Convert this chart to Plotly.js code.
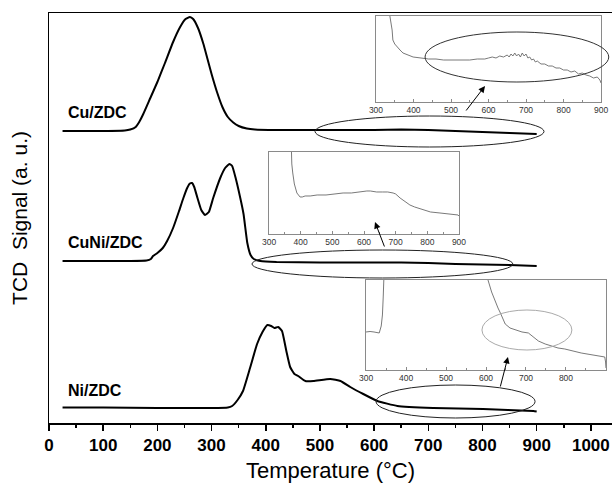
<!DOCTYPE html>
<html>
<head>
<meta charset="utf-8">
<script src="https://cdn.plot.ly/plotly-3.0.1.min.js"></script>
<style>html,body{margin:0;padding:0;background:#fff;}#chart{width:612px;height:487px;}</style>
</head>
<body>
<div id="chart"></div>
<script>
// ---- Main TPR profiles (temperature in °C, signal in arbitrary units) ----
const cuT = [25,50,100,140,150,160,167,174,187,200,214,229,242,252,260,266,275,285,292,300,310,320,330,340,350,365,380,420,500,600,650,700,750,800,850,900];
const cuSignal = [292,292,292,292.5,293.5,296,301.5,309,325,341,360,381,396,404,406,404,395,379,365,349,331,316,306,300.5,297,294.5,293.5,293,293,293,293.5,293,292,291,290,289];

const cuniT = [25,100,150,180,188,192,200,210,218,229,240,248,255,260,264,268,274,281,288,295,303,316,325,333,338,344,353,359,366,372,378,390,420,500,600,650,700,750,800,850,900];
const cuniSignal = [162,162,162,162.5,164,167,170,175,182,195,212,225,235,239.5,240,236,225,213,208,211,225,245,255,259,257,246,225,209,180,168,164,162,161,160.5,160.5,160.5,160,159,158.5,158,157];

const niT = [25,100,200,300,330,338,348,358,371,384,394,403,410,416,423,430,438,445,453,460,473,488,519,538,556,580,606,643,709,801,894,900];
const niSignal = [15.5,15.5,15,15,15.5,17,23,32,55,79,91,98,97,95,96,92,72,56,49,47,42,42,44,42,36,29,22,17,15,14,12,11.5];

// ---- Inset (magnified) profiles ----
const inset1T = [330,337,343,345,350,356,364,372,385,399,420,440,460,480,500,524,550,570,590,600,610,620,630,640,650,655,660,665,670,675,680,685,690,695,700,705,710,715,720,725,730,740,750,760,770,780,790,800,810,820,830,840,850,860,870,880,890,897,900];
const inset1Signal = [120,86,72,62,58,55,52,49,47,45,44,43,43,42,42,42,42,43,43,44,45,44,46,45,47,45,48,46,49,46,48,45,49,46,48,44,45,42,43,40,41,38,38,36,36,34,34,32,32,30,31,28,29,27,26,24,25,22,19];

const inset2T = [365,369,372,375,380,388,398,405,414,430,452,480,500,534,560,580,600,609,620,640,659,675,692,700,714,730,745,760,787,810,840,870,897,900];
const inset2Signal = [150,82,70,61,50,41,37,37,38,38,39,39,40,41,41,42,43,43,43,42,42,42,41,40,36,32,29,27,24,22,21,20,19,18];

const inset3T = [300,310,320,328,333,338,341,343,346,348,350,600,605,614,623,630,636,642,648,660,673,690,706,718,731,748,764,780,797,815,838,860,887,897,899,900];
const inset3Signal = [38,38.5,38,37,37,44,55,73,90,130,null,120,90,78,68,62,57,51,46,42,40,38,37,33,29,26,24,22,21,19,17,15.5,14,13,8,2];

// ---- Labels ----
const sampleNames = ['Cu/ZDC','CuNi/ZDC','Ni/ZDC'];
const xTitle = 'Temperature (°C)';
const yTitle = 'TCD\u00A0 Signal (a. u.)';
const insetTicks = [300,400,500,600,700,800,900];

const FONT = 'Liberation Sans, Arial, sans-serif';
const mainLine = {color:'#000', width:2, shape:'spline', smoothing:0.4};
const insetLine = {color:'#6a6a6a', width:0.9};

const traces = [
  {x:cuT, y:cuSignal, xaxis:'x', yaxis:'y', mode:'lines', line:mainLine, name:sampleNames[0]},
  {x:cuniT, y:cuniSignal, xaxis:'x', yaxis:'y', mode:'lines', line:mainLine, name:sampleNames[1]},
  {x:niT, y:niSignal, xaxis:'x', yaxis:'y', mode:'lines', line:mainLine, name:sampleNames[2]},
  {x:inset1T, y:inset1Signal, xaxis:'x2', yaxis:'y2', mode:'lines', line:insetLine},
  {x:inset2T, y:inset2Signal, xaxis:'x3', yaxis:'y3', mode:'lines', line:insetLine},
  {x:inset3T, y:inset3Signal, xaxis:'x4', yaxis:'y4', mode:'lines', line:insetLine, connectgaps:false}
];

function insetX(domain, anchor){
  return {domain:domain, anchor:anchor, range:[300,900], showline:true, mirror:true,
    linecolor:'#8a8a8a', linewidth:1, ticks:'inside', ticklen:3, tickcolor:'#8a8a8a',
    tickvals:insetTicks, showgrid:false, zeroline:false,
    minor:{ticks:'inside', ticklen:2, dtick:50, tickcolor:'#8a8a8a'},
    tickfont:{family:FONT, size:8.5, color:'#333'}};
}
function insetY(domain, anchor, range){
  return {domain:domain, anchor:anchor, range:range, showline:true, mirror:true,
    linecolor:'#8a8a8a', linewidth:1, ticks:'', showticklabels:false, showgrid:false, zeroline:false};
}

const layout = {
  width:612, height:487,
  margin:{l:49, r:0, t:13, b:64},
  paper_bgcolor:'#fff', plot_bgcolor:'#fff',
  showlegend:false,
  font:{family:FONT, color:'#000'},
  xaxis:{domain:[0,1], range:[0,1039], showline:true, mirror:true, linecolor:'#000', linewidth:1.5,
    ticks:'outside', ticklen:6, tickwidth:1.5, tickcolor:'#000', tick0:0, dtick:100,
    minor:{ticks:'outside', ticklen:3, tickwidth:1.5, dtick:50, tickcolor:'#000'},
    showgrid:false, zeroline:false,
    tickfont:{family:FONT, size:17, weight:'bold', color:'#000'},
    title:{text:xTitle, font:{family:FONT, size:22, color:'#000'}, standoff:8}},
  yaxis:{domain:[0,1], range:[0,410], showline:true, linecolor:'#000', linewidth:1.5,
    ticks:'', showticklabels:false, showgrid:false, zeroline:false,
    title:{text:yTitle, font:{family:FONT, size:21, color:'#000'}, standoff:14}},
  xaxis2:insetX([0.5808,0.9805],'y2'),
  yaxis2:insetY([0.7829,0.9927],'x2',[0,86]),
  xaxis3:insetX([0.3908,0.7282],'y3'),
  yaxis3:insetY([0.4610,0.6610],'x3',[0,82]),
  xaxis4:insetX([0.5631,0.9893],'y4'),
  yaxis4:insetY([0.1293,0.3488],'x4',[0,90]),
  shapes:[
    {type:'circle', xref:'x', yref:'y', x0:491, x1:913.5, y0:276, y1:307, line:{color:'#222', width:1}},
    {type:'circle', xref:'x', yref:'y', x0:374.6, x1:856, y0:145, y1:173, line:{color:'#222', width:1}},
    {type:'circle', xref:'x', yref:'y', x0:603.5, x1:897, y0:5, y1:38, line:{color:'#222', width:1}},
    {type:'circle', xref:'x', yref:'y', x0:694, x1:1033, y0:341, y1:391, line:{color:'#333', width:1}},
    {type:'circle', xref:'x', yref:'y', x0:799, x1:965, y0:73, y1:113, line:{color:'#aaa', width:1}}
  ],
  annotations:[
    {x:90, y:311, xref:'x', yref:'y', text:sampleNames[0], showarrow:false, font:{family:FONT, size:16, weight:'bold', color:'#000'}},
    {x:104, y:181, xref:'x', yref:'y', text:sampleNames[1], showarrow:false, font:{family:FONT, size:16, weight:'bold', color:'#000'}},
    {x:84, y:33, xref:'x', yref:'y', text:sampleNames[2], showarrow:false, font:{family:FONT, size:16, weight:'bold', color:'#000'}},
    {x:804.6, y:337, xref:'x', yref:'y', ax:-20, ay:26, text:'', showarrow:true, arrowhead:2, arrowsize:1.3, arrowwidth:1, arrowcolor:'#000'},
    {x:601.6, y:201, xref:'x', yref:'y', ax:10, ay:26, text:'', showarrow:true, arrowhead:2, arrowsize:1.3, arrowwidth:1, arrowcolor:'#000'},
    {x:847, y:66, xref:'x', yref:'y', ax:-8, ay:31, text:'', showarrow:true, arrowhead:2, arrowsize:1.3, arrowwidth:1, arrowcolor:'#000'}
  ]
};

Plotly.newPlot('chart', traces, layout, {displayModeBar:false, staticPlot:true});
</script>
</body>
</html>
